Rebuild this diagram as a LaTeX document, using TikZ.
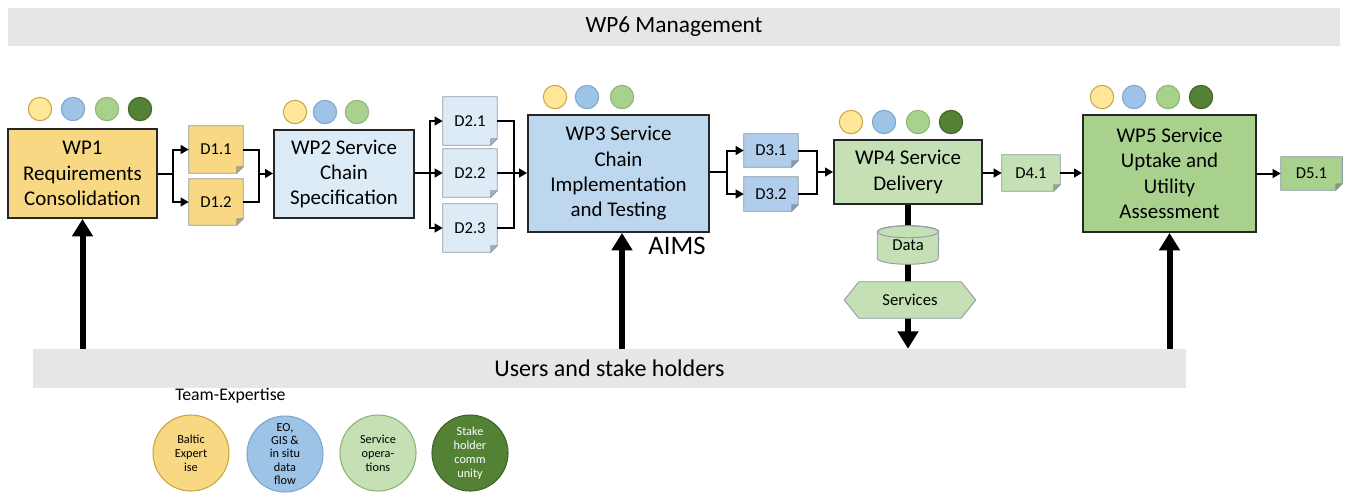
\documentclass[tikz,border=0pt]{standalone}
\usepackage{fontspec}
\setmainfont{Carlito}
\usetikzlibrary{arrows.meta,backgrounds}
\definecolor{barfill}{HTML}{E7E6E6}
\definecolor{boxline}{HTML}{262626}
\definecolor{docline}{HTML}{8E9AA8}
\definecolor{yelfill}{HTML}{F9D884}
\definecolor{lbfill}{HTML}{DDEBF7}
\definecolor{mbfill}{HTML}{BDD7EE}
\definecolor{dbfill}{HTML}{B0CDEC}
\definecolor{lgfill}{HTML}{C5E0B4}
\definecolor{mgfill}{HTML}{A9D18E}
\definecolor{dotY}{HTML}{FFE699}
\definecolor{dotYb}{HTML}{C9A640}
\definecolor{dotB}{HTML}{9DC3E6}
\definecolor{dotBb}{HTML}{7DA7D0}
\definecolor{dotG}{HTML}{A9D18E}
\definecolor{dotGb}{HTML}{8DB472}
\definecolor{dotD}{HTML}{548235}
\definecolor{dotDb}{HTML}{3F6328}
\begin{document}
\begin{tikzpicture}[x=0.75pt,y=-0.75pt,
  sz/.style 2 args={minimum width=#1*0.75pt, minimum height=#2*0.75pt},
  wpbox/.style={draw=boxline, line width=1.4pt, inner sep=0pt, align=center, font=\fontsize{15.7}{19}\selectfont},
  docbox/.style={inner sep=0pt, font=\fontsize{12.5}{14}\selectfont},
  bar/.style={fill=barfill, inner sep=0pt},
  ln/.style={line width=1.5pt},
  arr/.style={line width=1.5pt, -{Triangle[length=6pt,width=6.5pt]}},
  big/.style={line width=4.5pt, -{Triangle[length=13pt,width=15pt]}},
  dot/.style={circle, inner sep=0pt, minimum size=17.5pt, line width=0.8pt},
  team/.style={circle, inner sep=0pt, minimum size=57pt, align=center, line width=0.8pt, font=\fontsize{9.2}{10.5}\selectfont},
]
\useasboundingbox (0,0) rectangle (1349,494);

% bars
\node[bar, sz={1332}{38}, font=\fontsize{17.5}{20}\selectfont] (wp6) at (674,27) {WP6 Management};
\node[bar, sz={1153}{39}, font=\fontsize{18}{20}\selectfont] (users) at (609.5,368.5) {Users and stake holders};

% work packages
\node[wpbox, fill=yelfill, sz={149}{89}] (wp1) at (82.5,173.5) {WP1\\Requirements\\Consolidation};
\node[wpbox, fill=lbfill, sz={140}{88}] (wp2) at (344,174) {WP2 Service\\Chain\\Specification};
\node[wpbox, fill=mbfill, sz={181}{117}] (wp3) at (618.5,173.5) {WP3 Service\\Chain\\Implementation\\and Testing};
\node[wpbox, fill=lgfill, sz={148}{64}] (wp4) at (908,172) {WP4 Service\\Delivery};
\node[wpbox, fill=mgfill, sz={173}{117}] (wp5) at (1169.5,173.5) {WP5 Service\\Uptake and\\Utility\\Assessment};

% deliverables
\node[docbox, sz={54}{47}] (d11) at (216,149.5) {D1.1};
\node[docbox, sz={54}{46}] (d12) at (216,202) {D1.2};
\node[docbox, sz={54}{48}] (d21) at (470,121) {D2.1};
\node[docbox, sz={54}{48}] (d22) at (470,173) {D2.2};
\node[docbox, sz={54}{48}] (d23) at (470,228) {D2.3};
\node[docbox, sz={54}{33}] (d31) at (771,150.5) {D3.1};
\node[docbox, sz={54}{34}] (d32) at (771,194) {D3.2};
\node[docbox, sz={58}{36}] (d41) at (1031,173) {D4.1};
\node[docbox, sz={61}{33}] (d51) at (1311.5,173.5) {D5.1};

% data and services
\node[docbox, sz={61}{38}] (data) at (908,245) {Data};
\node[docbox, sz={131}{36}] (services) at (910,300) {Services};

\node[font=\fontsize{20}{24}\selectfont, inner sep=0pt] (aims) at (677,246) {AIMS};

% expertise dots
\foreach \x/\y/\c [count=\i] in {40/109/Y,73/109/B,107/109/G,140/109/D,
  295/112/Y,325/112/B,357/112/G,
  555/97/Y,587/97/B,622/97/G,
  851/122/Y,884/122/B,918/122/G,951/122/D,
  1102/97/Y,1134/97/B,1168/97/G,1201/97/D}
  \node[dot, fill=dot\c, draw=dot\c b] (dot\i) at (\x,\y) {};

% team expertise
\node[anchor=west, inner sep=0pt, font=\fontsize{13.3}{15}\selectfont] (teamlabel) at (175,396) {Team-Expertise};
\node[team, fill=yelfill, draw=dotYb] (tb) at (191,453) {Baltic\\Expert\\ise};
\node[team, fill=dotB, draw=dotBb, font=\fontsize{9.2}{9.8}\selectfont] (te) at (285,454) {EO,\\GIS \&\\in situ\\data\\flow};
\node[team, fill=lgfill, draw=dotGb] (ts) at (378,453) {Service\\opera-\\tions};
\node[team, fill=dotD, draw=dotDb, text=white] (tk) at (470,453) {Stake\\holder\\comm\\unity};

% connectors WP1 -> WP2
\coordinate (s1) at (173,173.5);
\coordinate (j1) at (259,173.5);
\draw[ln] (wp1.east) -- (s1);
\draw[arr] (s1) |- (d11.west);
\draw[arr] (s1) |- (d12.west);
\draw[ln] (d11.east) -| (j1);
\draw[ln] (d12.east) -| (j1);
\draw[arr] (j1) -- (wp2.west |- j1);

% WP2 -> WP3
\coordinate (s2) at (430,173);
\coordinate (j2) at (514,173);
\draw[ln] (wp2.east |- s2) -- (s2);
\draw[arr] (s2) |- (d21.west);
\draw[arr] (s2) -- (d22.west);
\draw[arr] (s2) |- (d23.west);
\draw[ln] (d21.east) -| (j2);
\draw[ln] (d23.east) -| (j2);
\draw[ln] (d22.east) -- (j2);
\draw[arr] (j2) -- (wp3.west |- j2);

% WP3 -> WP4
\coordinate (s3) at (727,172);
\coordinate (j3) at (817,172);
\draw[ln] (wp3.east |- s3) -- (s3);
\draw[arr] (s3) |- (d31.west);
\draw[arr] (s3) |- (d32.west);
\draw[ln] (d31.east) -| (j3);
\draw[ln] (d32.east) -| (j3);
\draw[arr] (j3) -- (wp4.west |- j3);

% WP4 -> D4.1 -> WP5 -> D5.1
\draw[arr] (wp4.east |- d41.west) -- (d41.west);
\draw[arr] (d41.east) -- (wp5.west |- d41.east);
\draw[arr] (wp5.east |- d51.west) -- (d51.west);

% users -> WPs
\draw[big] (wp1.south |- users.north) -- (wp1.south);
\coordinate (a3) at (622,349);
\draw[big] (a3) -- (a3 |- wp3.south);
\draw[big] (wp5.south |- users.north) -- (wp5.south);

\begin{scope}[on background layer]
  % WP4 down line
  \coordinate (v4) at (908,300);
  \draw[line width=4.5pt] (wp4.south) -- (data.center);
  \draw[line width=4.5pt] (data.center) -- (v4);
  \draw[big] (v4) -- (v4 |- users.north);
  % cylinder
  \filldraw[fill=lgfill, draw=docline, line width=0.7pt]
    ([yshift=-4.5pt]data.north west) -- ([yshift=4.5pt]data.south west)
    arc[start angle=180, end angle=360, x radius=22.875pt, y radius=4.5pt]
    -- ([yshift=-4.5pt]data.north east)
    arc[start angle=0, end angle=180, x radius=22.875pt, y radius=4.5pt] -- cycle;
  \draw[docline, line width=0.7pt] ([yshift=-4.5pt]data.north) ellipse [x radius=22.875pt, y radius=4.5pt];
  % hexagon
  \filldraw[fill=lgfill, draw=docline, line width=0.7pt]
    (services.west) -- ([xshift=11pt]services.north west) -- ([xshift=-11pt]services.north east)
    -- (services.east) -- ([xshift=-11pt]services.south east) -- ([xshift=11pt]services.south west) -- cycle;
  % documents
  \foreach \n/\c in {d11/yelfill,d12/yelfill,d21/lbfill,d22/lbfill,d23/lbfill,d31/dbfill,d32/dbfill,d41/lgfill,d51/mgfill} {
    \filldraw[fill=\c, draw=docline, line width=0.7pt]
      (\n.north west) -- (\n.north east) -- ([yshift=5pt]\n.south east)
      -- ([xshift=-5pt]\n.south east) -- (\n.south west) -- cycle;
    \filldraw[fill=\c!75!black, draw=docline, line width=0.5pt]
      ([yshift=5pt]\n.south east) -- ([xshift=-5pt,yshift=5pt]\n.south east) -- ([xshift=-5pt]\n.south east) -- cycle;
  }
\end{scope}
\end{tikzpicture}
\end{document}
